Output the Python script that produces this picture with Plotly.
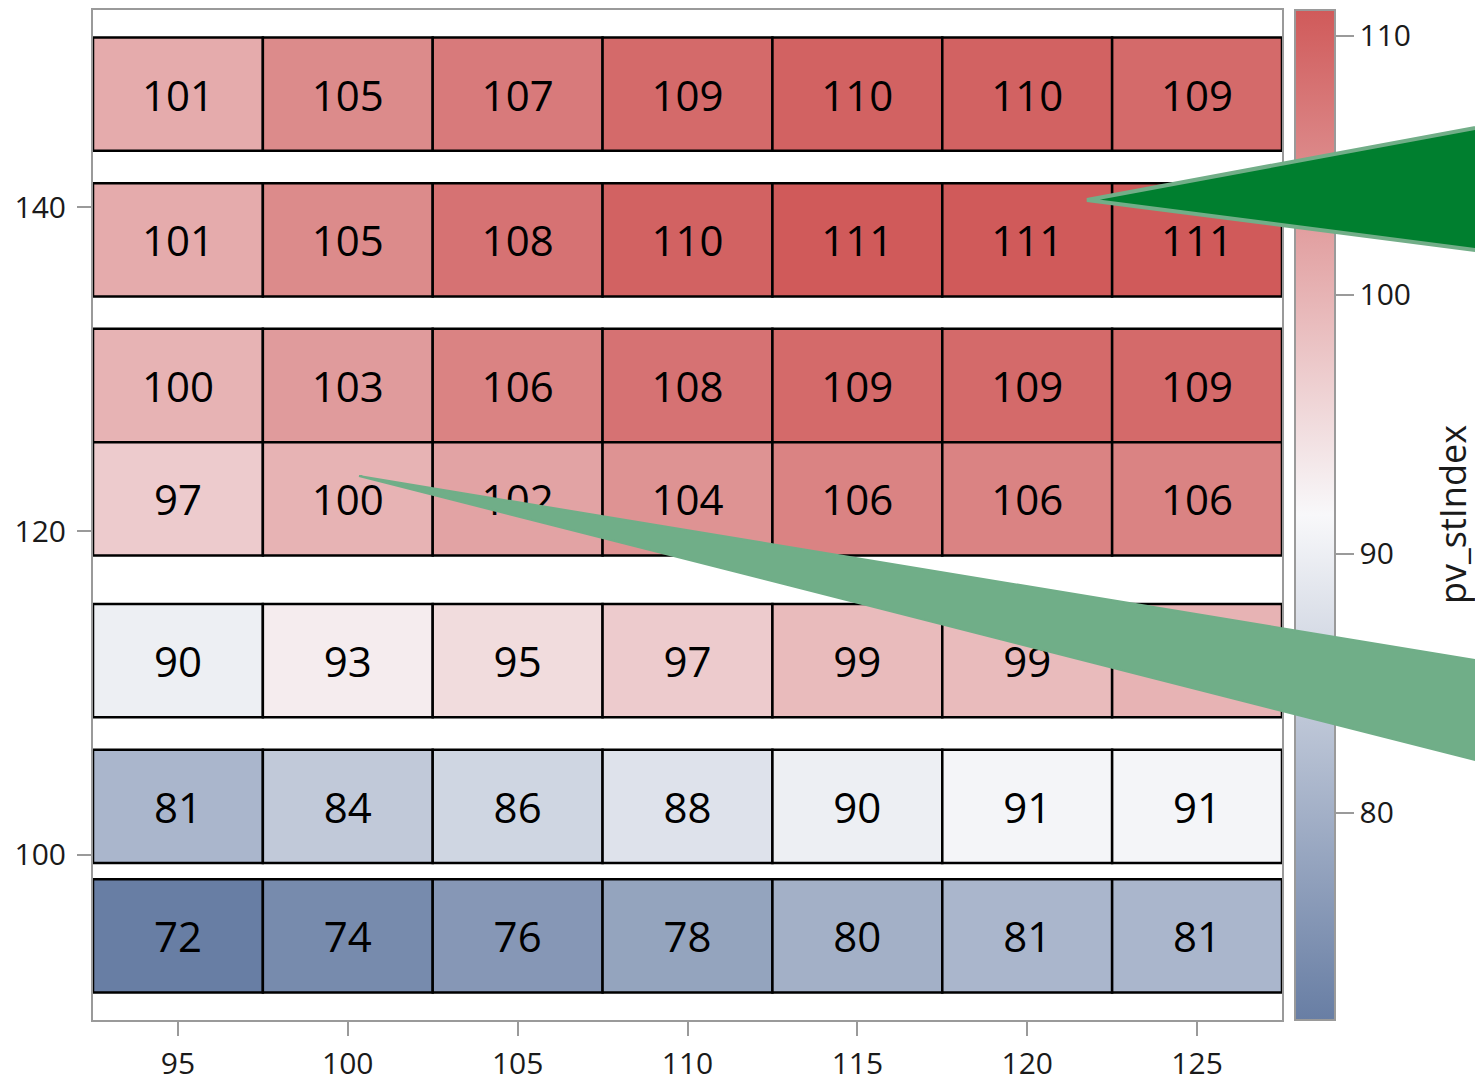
import plotly.graph_objects as go

# ---- data ----
x_cats = [95, 100, 105, 110, 115, 120, 125]
row_y = [147, 138, 129, 122, 112, 103, 95]
row_147 = [101, 105, 107, 109, 110, 110, 109]
row_138 = [101, 105, 108, 110, 111, 111, 111]
row_129 = [100, 103, 106, 108, 109, 109, 109]
row_122 = [97, 100, 102, 104, 106, 106, 106]
row_112 = [90, 93, 95, 97, 99, 99, 100]
row_103 = [81, 84, 86, 88, 90, 91, 91]
row_95 = [72, 74, 76, 78, 80, 81, 81]
rows = [row_147, row_138, row_129, row_122, row_112, row_103, row_95]
x_ticks = [95, 100, 105, 110, 115, 120, 125]
y_ticks = [100, 120, 140]
cb_ticks = [80, 90, 100, 110]
cb_title = "pv_stIndex"

# ---- geometry / style ----
CELL_W = 5
CELL_H = 7
W, H = 1475, 1081
ML, MR, MT, MB = 93, 193, 10, 61
FONT = "Open Sans"
AXC = "#9a9a9a"

xs, bases, heights, vals = [], [], [], []
for yc, rv in zip(row_y, rows):
    for xc, v in zip(x_cats, rv):
        xs.append(xc)
        bases.append(yc - CELL_H / 2)
        heights.append(CELL_H)
        vals.append(v)

all_vals = [v for r in rows for v in r]
vmin, vmax = min(all_vals), max(all_vals)

fig = go.Figure()
fig.add_trace(go.Bar(
    x=xs, y=heights, base=bases, width=CELL_W,
    marker=dict(color=vals, coloraxis="coloraxis",
                line=dict(color="black", width=2.5)),
    text=[str(v) for v in vals], textposition="inside",
    insidetextanchor="middle", textangle=0,
    textfont=dict(family=FONT, size=42, color="black"),
    hoverinfo="skip", showlegend=False,
))

pw = W - ML - MR
ph = H - MT - MB

def px(xs_):
    return (xs_ - ML) / pw

def py(ys_):
    return (MT + ph - ys_) / ph

# decorative pointer triangles (paper coordinates, from screen pixels)
dark = f"M {px(1087)},{py(200)} L {px(1520)},{py(119.6)} L {px(1520)},{py(255.8)} Z"
light = f"M {px(359)},{py(476)} L {px(1520)},{py(667.4)} L {px(1520)},{py(771.5)} Z"

fig.update_layout(
    width=W, height=H,
    margin=dict(l=ML, r=MR, t=MT, b=MB, autoexpand=False),
    paper_bgcolor="white", plot_bgcolor="white",
    barmode="overlay", bargap=0,
    font=dict(family=FONT, color="#1a1a1a", size=30),
    xaxis=dict(range=[92.5, 127.5], tickvals=x_ticks, ticks="outside",
               ticklen=14, tickwidth=2, tickcolor=AXC, showline=True,
               linecolor=AXC, linewidth=2, mirror=True, showgrid=False,
               zeroline=False, tickfont=dict(size=30), ticklabelstandoff=2),
    yaxis=dict(range=[89.8, 152.2], tickvals=y_ticks, ticks="outside",
               ticklen=14, tickwidth=2, tickcolor=AXC, showline=True,
               linecolor=AXC, linewidth=2, mirror=True, showgrid=False,
               zeroline=False, tickfont=dict(size=30), ticklabelstandoff=5),
    coloraxis=dict(
        cmin=vmin, cmax=vmax,
        colorscale=[[0, "#687ea4"], [0.5, "#f8f8fa"], [1, "#d05a5a"]],
        colorbar=dict(
            thickness=40, thicknessmode="pixels", len=1, lenmode="fraction",
            y=0.5, yanchor="middle", ypad=0, x=px(1295), xanchor="left", xpad=0,
            outlinewidth=2, outlinecolor=AXC, ticks="outside", ticklen=18,
            tickwidth=2, tickcolor=AXC, tickvals=cb_ticks,
            tickfont=dict(size=30, color="#1a1a1a"),
        ),
    ),
    annotations=[
        dict(text=cb_title, xref="paper", yref="paper", x=px(1452), y=0.5,
             xanchor="center", yanchor="middle", textangle=-90, showarrow=False,
             font=dict(size=36, color="#1a1a1a", family=FONT)),
    ],
    shapes=[
        dict(type="path", xref="paper", yref="paper", path=dark, layer="above",
             fillcolor="#007f2f", line=dict(color="#72ae88", width=4)),
        dict(type="path", xref="paper", yref="paper", path=light, layer="above",
             fillcolor="#70ae88", line=dict(color="#70ae88", width=2)),
    ],
)

post = """
document.documentElement.style.overflow = 'hidden';
document.body.style.margin = '0';
document.body.style.overflow = 'hidden';
var gd = document.getElementById('{plot_id}');
var above = gd.querySelector('g.layer-above');
var info = gd.querySelector('g.infolayer');
if (above && info) { info.parentNode.appendChild(above); }
"""

fig.write_html("out.html", post_script=post,
               config={"displayModeBar": False, "staticPlot": True})
